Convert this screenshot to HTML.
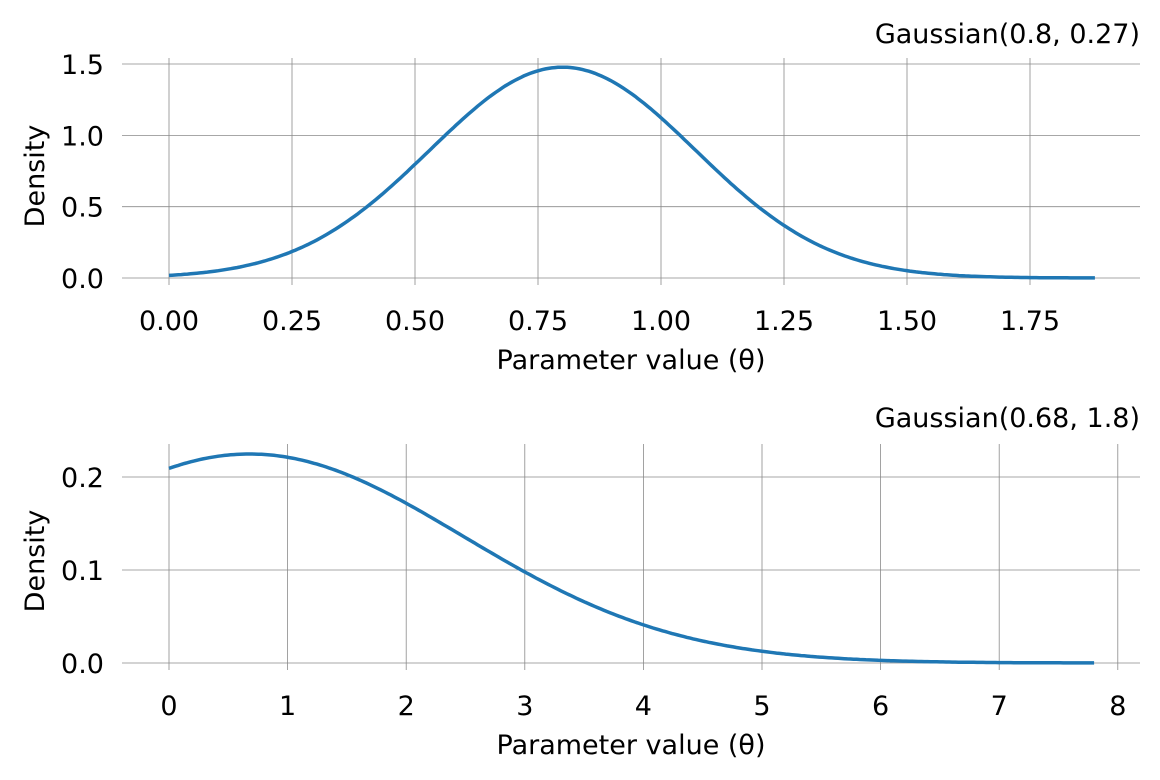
<!DOCTYPE html>
<html><head><meta charset="utf-8"><style>
body{margin:0;background:#fff;}
svg{display:block;font-family:"DejaVu Sans","Liberation Sans",sans-serif;}
</style></head><body>
<svg id="s" width="1160" height="780" xmlns="http://www.w3.org/2000/svg">
<rect width="1160" height="780" fill="#fff"/>
<g id="g"></g>
</svg>
<script>
var g=document.getElementById('g');var h='';
function L(x1,y1,x2,y2,c,w){h+='<line x1="'+x1+'" y1="'+y1+'" x2="'+x2+'" y2="'+y2+'" stroke="'+c+'" stroke-width="'+w+'"/>';}
function T(x,y,t,a,s){h+='<text x="'+x+'" y="'+y+'" font-size="'+(s||27)+'" text-anchor="'+(a||'middle')+'" fill="#000">'+t+'</text>';}
function pdf(x,m,s){return Math.exp(-(x-m)*(x-m)/(2*s*s))/(s*Math.sqrt(2*Math.PI));}
var gc='#8a8a8a';
var tx=['0.00','0.25','0.50','0.75','1.00','1.25','1.50','1.75'];
for(var i=0;i<8;i++){var x=169+i*123;L(x,58,x,285,gc,0.8);T(x,330,tx[i]);}
var ty=['0.0','0.5','1.0','1.5'];
for(var i=0;i<4;i++){var y=278-i*71.33;L(122,y,1140,y,gc,0.8);T(104,y+10,ty[i],'end');}
var d='';for(var k=0;k<=300;k++){var xv=1.882*k/300;var px=169+xv*492,py=278-pdf(xv,0.8,0.27)*142.67;d+=(k?'L':'M')+px.toFixed(1)+','+py.toFixed(1);}
h+='<path d="'+d+'" fill="none" stroke="#1f77b4" stroke-width="3.5"/>';
T(631,369,'Parameter value (θ)');
h+='<text transform="translate(44,176) rotate(-90)" font-size="27" text-anchor="middle">Density</text>';
T(1140,43,'Gaussian(0.8, 0.27)','end');
for(var i=0;i<=8;i++){var x=169+i*118.6;L(x,444,x,670,gc,0.8);T(x,715,''+i);}
var by=['0.0','0.1','0.2'];
for(var i=0;i<3;i++){var y=663-i*93;L(122,y,1140,y,gc,0.8);T(104,y+10,by[i],'end');}
d='';for(var k=0;k<=300;k++){var xv=7.8*k/300;var px=169+xv*118.6,py=663-pdf(xv,0.68,1.8)*1.014*930;d+=(k?'L':'M')+px.toFixed(1)+','+py.toFixed(1);}
h+='<path d="'+d+'" fill="none" stroke="#1f77b4" stroke-width="3.5"/>';
T(631,754,'Parameter value (θ)');
h+='<text transform="translate(44,561) rotate(-90)" font-size="27" text-anchor="middle">Density</text>';
T(1140,427,'Gaussian(0.68, 1.8)','end');
g.innerHTML=h;
</script>
</body></html>
